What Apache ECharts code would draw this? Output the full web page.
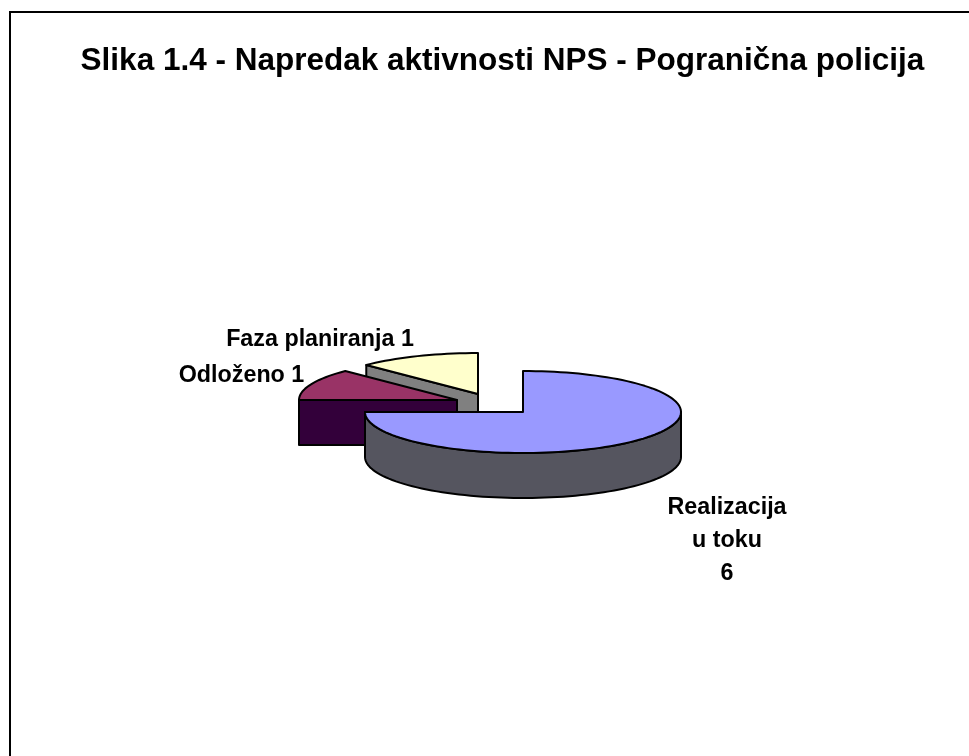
<!DOCTYPE html>
<html><head><meta charset="utf-8">
<style>html,body{margin:0;padding:0;background:#fff}#c{width:969px;height:756px}</style>
<script src="https://cdn.jsdelivr.net/npm/echarts@6/dist/echarts.min.js"></script>
</head><body><div id="c"></div>
<script>
const titleText = 'Slika 1.4 - Napredak aktivnosti NPS - Pogranična policija';
const categories = ['Realizacija u toku', 'Odloženo', 'Faza planiranja'];
const values = [6, 1, 1];
const topColors = ['#9999ff', '#993366', '#ffffcc'];
const sideColors = ['#55555f', '#33003a', '#808080'];
const sliceLabels = [
  ['Realizacija', 'u toku', '6'],
  ['Odloženo 1'],
  ['Faza planiranja 1']
];

const RX = 158, RY = 41, DEPTH = 45;
const centers = [[523, 412], [457, 400], [478, 394]];
const labelAnchors = [[727, 508, 33], [241.5, 376, 0], [320, 340, 0]];
const total = values.reduce((a, b) => a + b, 0);

function pt(c, t, dy) {
  return [c[0] + RX * Math.sin(t), c[1] - RY * Math.cos(t) + (dy || 0)];
}
function arc(c, a, b, dy) {
  const pts = [], n = Math.max(2, Math.ceil(Math.abs(b - a) / 0.04));
  for (let i = 0; i <= n; i++) pts.push(pt(c, a + (b - a) * i / n, dy));
  return pts;
}
function poly(points, fill, z) {
  return { type: 'polygon', z2: z, shape: { points },
    style: { fill, stroke: '#000', lineWidth: 2, lineJoin: 'round' } };
}
function renderSlice(params, api) {
  const i = params.dataIndex, c = centers[i];
  const base = (categories.length - i) * 10;
  let before = 0;
  for (let k = 0; k < i; k++) before += values[k];
  const a = before / total * 2 * Math.PI;
  const b = (before + api.value(1)) / total * 2 * Math.PI;
  const kids = [];
  // outer rim, front half only
  const fa = Math.max(a, Math.PI / 2), fb = Math.min(b, 1.5 * Math.PI);
  if (fb > fa) {
    kids.push(poly(arc(c, fa, fb).concat(arc(c, fb, fa, DEPTH)), sideColors[i], base + 1));
  }
  // vertical cut face along the start radius, seen from the front
  if (i > 0) {
    const s = pt(c, a);
    kids.push(poly([s, c, [c[0], c[1] + DEPTH], [s[0], s[1] + DEPTH]], sideColors[i], base + 2));
  }
  // top face
  kids.push(poly([c].concat(arc(c, a, b)), topColors[i], base + 3));
  const la = labelAnchors[i];
  sliceLabels[i].forEach((line, j) => {
    kids.push({ type: 'text', z2: 100, style: {
      x: la[0], y: la[1] + j * la[2], text: line, align: 'center', verticalAlign: 'middle',
      font: 'bold 23.3px "Liberation Sans", Arial, sans-serif', fill: '#000' } });
  });
  return { type: 'group', children: kids };
}

const chart = echarts.init(document.getElementById('c'), null, { renderer: 'canvas' });
chart.setOption({
  animation: false,
  backgroundColor: '#fff',
  title: {
    text: titleText, left: 497.5, top: 40, textAlign: 'center',
    textStyle: { fontFamily: '"Liberation Sans", Arial, sans-serif', fontSize: 31.5, fontWeight: 'bold', color: '#000' }
  },
  graphic: [
    { type: 'line', shape: { x1: 10, y1: 12, x2: 969, y2: 12 }, style: { stroke: '#000', lineWidth: 2 } },
    { type: 'line', shape: { x1: 10, y1: 11, x2: 10, y2: 756 }, style: { stroke: '#000', lineWidth: 2 } }
  ],
  series: [{
    type: 'custom', coordinateSystem: 'none', renderItem: renderSlice,
    data: categories.map((name, i) => ({ name, value: [i, values[i]] })),
    silent: true
  }]
});
</script></body></html>
